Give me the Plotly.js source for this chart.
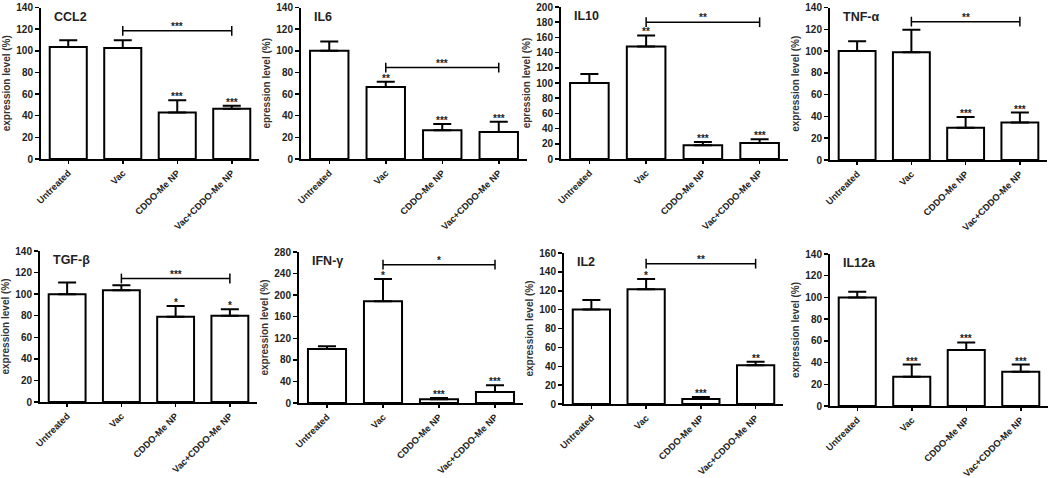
<!DOCTYPE html>
<html>
<head>
<meta charset="utf-8">
<script src="https://cdn.plot.ly/plotly-3.0.1.min.js"></script>
<style>html,body{margin:0;padding:0;background:#fff;}#chart{width:1050px;height:478px;}</style>
</head>
<body>
<div id="chart"></div>
<script>
// ---- data ----
const categories = ["Untreated", "Vac", "CDDO-Me NP", "Vac+CDDO-Me NP"];
const panelNames = ["CCL2", "IL6", "IL10", "TNF-α", "TGF-β", "IFN-γ", "IL2", "IL12a"];
const yTitles = ["expression level (%)", "epression level (%)", "epression level (%)", "expression level (%)",
                 "expression level (%)", "expression level (%)", "expression level (%)", "expression level (%)"];
const yMax = [140, 140, 200, 140, 140, 280, 160, 140];
const yStep = [20, 20, 20, 20, 20, 40, 20, 20];

const ccl2Mean = [103.5, 102.5, 43, 46.5];   const ccl2Err = [6.3, 7.3, 11.3, 2.8];
const il6Mean  = [100, 66.5, 26.5, 25];      const il6Err  = [8.5, 5, 5.8, 9.5];
const il10Mean = [100, 148, 18, 21];         const il10Err = [12, 14.5, 4.5, 5];
const tnfMean  = [100, 99, 29.5, 34.5];      const tnfErr  = [9, 20.5, 10, 9];
const tgfMean  = [100, 103.5, 79, 80];       const tgfErr  = [10.8, 4.7, 10, 6];
const ifnMean  = [100, 188.5, 6.8, 20.5];    const ifnErr  = [5, 41.5, 2.5, 12.5];
const il2Mean  = [100, 121.5, 5.3, 41];      const il2Err  = [10.2, 11, 2.1, 3.9];
const il12Mean = [100, 27, 51.5, 31.5];      const il12Err = [5.2, 11.2, 7, 6.7];

const ccl2Stars = ["", "", "***", "***"];
const il6Stars  = ["", "**", "***", "***"];
const il10Stars = ["", "**", "***", "***"];
const tnfStars  = ["", "", "***", "***"];
const tgfStars  = ["", "", "*", "*"];
const ifnStars  = ["", "*", "***", "***"];
const il2Stars  = ["", "*", "***", "**"];
const il12Stars = ["", "***", "***", "***"];

// bracket between Vac and Vac+CDDO-Me NP: [height, label]
const bracketY     = [118.4, 84.5, 180, 127, 114.5, 256.5, 148.7, null];
const bracketLabel = ["***", "***", "**", "**", "***", "*", "**", ""];
const bracketFrom = "Vac", bracketTo = "Vac+CDDO-Me NP";

const means = [ccl2Mean, il6Mean, il10Mean, tnfMean, tgfMean, ifnMean, il2Mean, il12Mean];
const errs  = [ccl2Err, il6Err, il10Err, tnfErr, tgfErr, ifnErr, il2Err, il12Err];
const stars = [ccl2Stars, il6Stars, il10Stars, tnfStars, tgfStars, ifnStars, il2Stars, il12Stars];

// ---- layout geometry (pixels) ----
const W = 1050, H = 478;
const boxes = [
  [41, 259, 7.5, 159], [301, 527, 7.5, 159], [561, 788, 7, 159], [830, 1047, 7.5, 160],
  [40, 257, 251, 402], [299, 523, 252, 403], [564, 783, 253, 404], [830, 1048, 254, 406]
];

const FONT = "Liberation Sans, Arial, sans-serif";
const TXT = "#222";
const traces = [];
const layout = {
  width: W, height: H, margin: {l: 0, r: 0, t: 0, b: 0},
  paper_bgcolor: "#fff", plot_bgcolor: "rgba(0,0,0,0)",
  showlegend: false, annotations: [], shapes: [],
  font: {family: FONT, color: TXT}
};

for (let i = 0; i < 8; i++) {
  const n = i + 1;
  const xa = "x" + (n === 1 ? "" : n), ya = "y" + (n === 1 ? "" : n);
  const xk = "xaxis" + (n === 1 ? "" : n), yk = "yaxis" + (n === 1 ? "" : n);
  const b = boxes[i];
  const ticks = [];
  for (let v = 0; v <= yMax[i]; v += yStep[i]) ticks.push(v);

  traces.push({
    type: "bar", x: categories, y: means[i], xaxis: xa, yaxis: ya, width: 0.68,
    marker: {color: "#fff", line: {color: "#000", width: 2}},
    error_y: {type: "data", symmetric: false, array: errs[i], arrayminus: errs[i].map(() => 0),
              color: "#000", thickness: 2, width: 9},
    hoverinfo: "skip"
  });

  if (bracketY[i] !== null) {
    traces.push({
      type: "scatter", mode: "lines+markers", x: [bracketFrom, bracketTo], y: [bracketY[i], bracketY[i]],
      xaxis: xa, yaxis: ya, line: {color: "#000", width: 1.5},
      marker: {symbol: "line-ns", size: 7, line: {color: "#000", width: 1.5}}, hoverinfo: "skip"
    });
    layout.annotations.push({
      xref: xa, yref: ya, x: 2, y: bracketY[i], text: bracketLabel[i], showarrow: false,
      yanchor: "bottom", yshift: -3, font: {family: FONT, size: 10, color: TXT, weight: "bold"}
    });
  }

  categories.forEach((c, k) => {
    if (stars[i][k]) {
      layout.annotations.push({
        xref: xa, yref: ya, x: c, y: means[i][k] + errs[i][k], text: stars[i][k], showarrow: false,
        yanchor: "bottom", yshift: -4, font: {family: FONT, size: 10, color: TXT, weight: "bold"}
      });
    }
  });

  layout.annotations.push({
    xref: xa + " domain", yref: ya + " domain", x: 0.05, y: 1.0, xanchor: "left", yanchor: "top",
    text: panelNames[i], showarrow: false, font: {family: FONT, size: 12.5, color: TXT, weight: "bold"}
  });

  layout[xk] = {
    domain: [b[0] / W, b[1] / W], anchor: ya, type: "category", range: [-0.5, 3.5],
    showline: true, linecolor: "#000", linewidth: 2, ticks: "outside", ticklen: 3, tickwidth: 1.5,
    tickcolor: "#000", tickangle: -45, showgrid: false, zeroline: false,
    tickfont: {family: FONT, size: 9.3, color: TXT, weight: "bold"}, fixedrange: true
  };
  layout[yk] = {
    domain: [1 - b[3] / H, 1 - b[2] / H], anchor: xa, range: [0, yMax[i]],
    tickvals: ticks, ticktext: ticks.map(String),
    showline: true, linecolor: "#000", linewidth: 2, ticks: "outside", ticklen: 4, tickwidth: 1.5,
    tickcolor: "#000", showgrid: false, zeroline: false,
    tickfont: {family: FONT, size: 10, color: TXT, weight: "bold"},
    title: {text: yTitles[i], font: {family: FONT, size: 10, color: "#333", weight: "bold"}, standoff: 4},
    fixedrange: true
  };
}

Plotly.newPlot("chart", traces, layout, {displayModeBar: false, staticPlot: true});
</script>
</body>
</html>
